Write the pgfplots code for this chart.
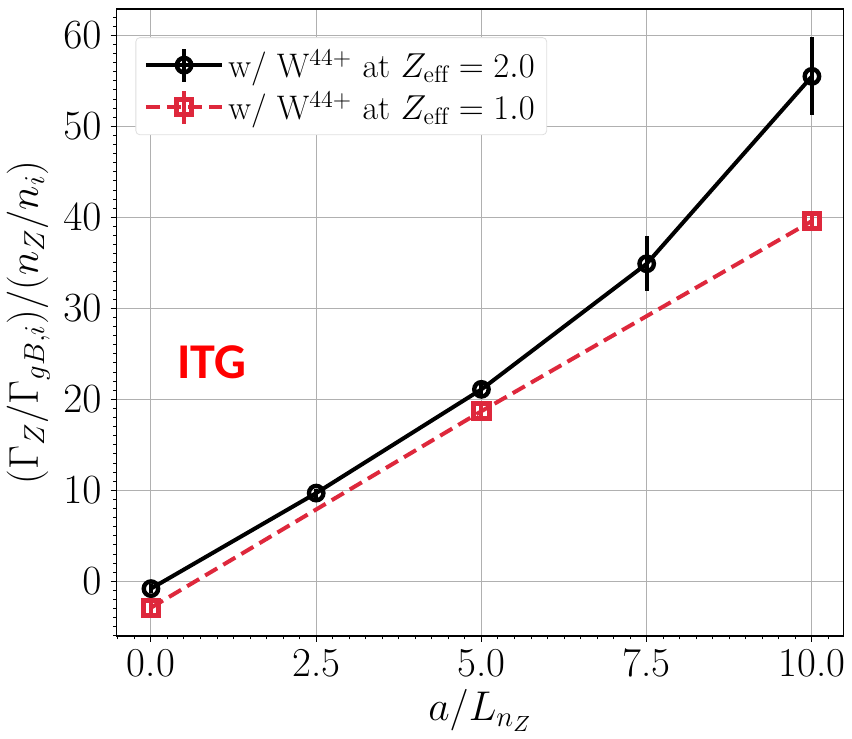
\documentclass[border=0pt]{standalone}
\usepackage{fontspec}
\usepackage{pgfplots}
\pgfplotsset{compat=1.18}
\newfontfamily\itgfont{Carlito}
\definecolor{myred}{RGB}{222,40,60}
\definecolor{gridgray}{RGB}{176,176,176}
\begin{document}
\begin{tikzpicture}
\begin{axis}[
  name=main,
  scale only axis,
  width=363pt, height=313pt,
  xmin=-0.52, xmax=10.48,
  ymin=-6, ymax=62.9,
  xtick={0,2.5,5,7.5,10},
  xticklabels={0.0,2.5,5.0,7.5,10.0},
  ytick={0,10,20,30,40,50,60},
  minor xtick={-0.5,-0.25,...,10.5},
  minor ytick={-6,-5,...,62},
  xtick pos=bottom, ytick pos=left,
  tick align=outside,
  major tick length=3pt, minor tick length=1.7pt,
  every major tick/.style={black, line width=0.5pt},
  every minor tick/.style={black, line width=0.5pt},
  grid=major,
  major grid style={gridgray, line width=0.5pt},
  minor grid style={draw=none},
  axis line style={black, line width=0.6pt},
  tick label style={font=\fontsize{20.5}{24}\selectfont},
  yticklabel style={xshift=-1pt},
  label style={font=\fontsize{21}{25}\selectfont},
  xlabel={$a/L_{n_Z}$},
  ylabel={$(\Gamma_Z/\Gamma_{gB,i})/(n_Z/n_i)$},
  xlabel style={yshift=1pt},
  ylabel style={yshift=0pt},
  legend cell align=left,
  legend style={at={(0.026,0.955)}, anchor=north west, draw=gray!25, rounded corners=2pt, fill=white, font=\fontsize{17}{20}\selectfont, inner sep=4pt, row sep=1.5pt},
  legend image code/.code={
    \draw[#1,solid] (0.67cm,-0.29cm) -- (0.67cm,0.29cm);
    \draw[mark repeat=2,mark phase=2,#1] plot coordinates {(0cm,0cm) (0.67cm,0cm) (1.34cm,0cm)};
  },
]
\addplot[black, line width=2pt, mark=o, mark size=3.6pt, mark options={solid, fill=white, line width=2.2pt},
  error bars/.cd, y dir=both, y explicit, error mark=none, error bar style={line width=2pt, solid}]
  coordinates {
  (0,-0.8) +- (0,0.5)
  (2.5,9.7) +- (0,0.5)
  (5,21.1) +- (0,0.6)
  (7.5,34.9) +- (0,3.0)
  (10,55.5) +- (0,4.3)
};
\addlegendentry{w/ W$^{44+}$ at $Z_{\mathrm{eff}}=2.0$}
\addplot[myred, line width=2pt, dash pattern=on 7pt off 3.5pt, mark=square, mark size=3.8pt, mark options={solid, fill=white, line width=2.5pt},
  error bars/.cd, y dir=both, y explicit, error mark=none, error bar style={line width=2pt, solid}]
  coordinates {
  (0,-2.9) +- (0,0.6)
  (5,18.7) +- (0,0.8)
  (10,39.6) +- (0,1.1)
};
\addlegendentry{w/ W$^{44+}$ at $Z_{\mathrm{eff}}=1.0$}
\node[text=red, font=\itgfont\bfseries\fontsize{25}{29}\selectfont] at (axis cs:0.92,24.1) {ITG};
\end{axis}
\path ([yshift=4.5pt]main.north);
\end{tikzpicture}
\end{document}
